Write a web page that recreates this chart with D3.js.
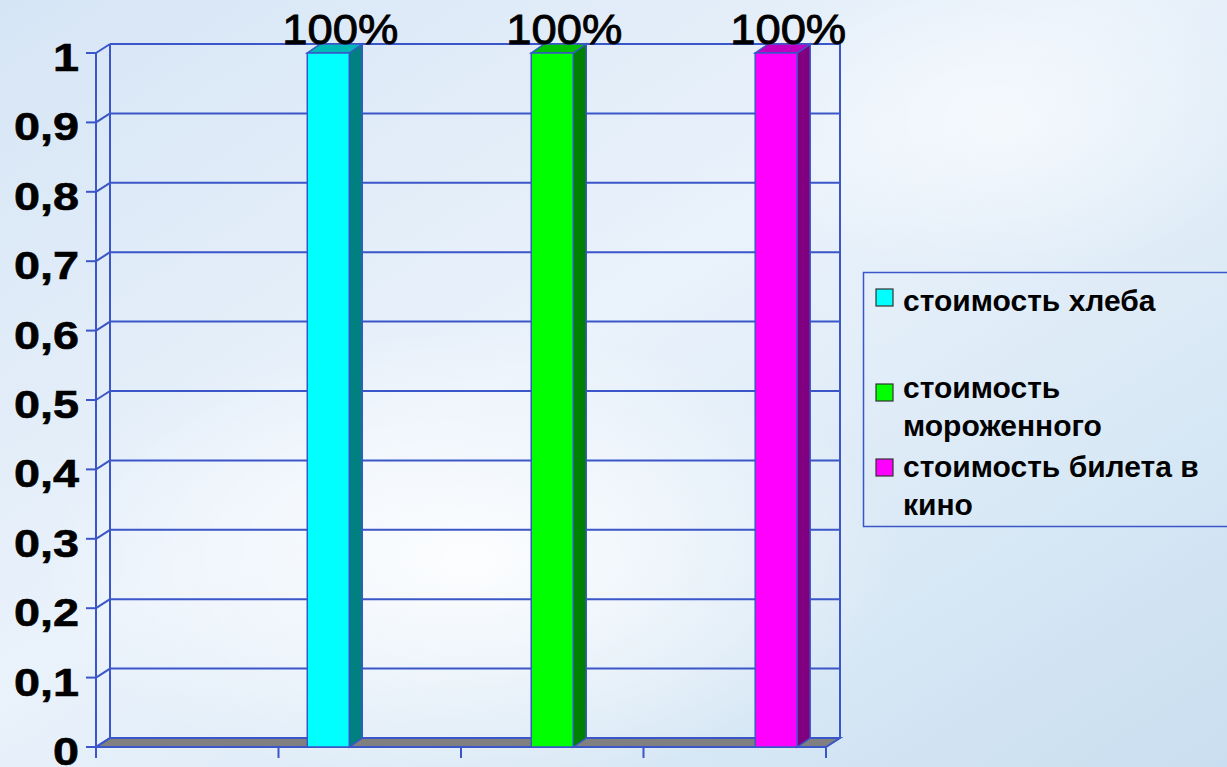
<!DOCTYPE html>
<html>
<head>
<meta charset="utf-8">
<script src="https://cdn.jsdelivr.net/npm/d3@7"></script>
<style>
  body { margin: 0; overflow: hidden; }
  svg { display: block; }
</style>
</head>
<body>
<div id="main_div"></div>
<script>
var WIDTH = 1227;
var HEIGHT = 767;

// chart data
var seriesNames = ["стоимость хлеба", "стоимость мороженного", "стоимость билета в кино"];
var legendLines = [["стоимость хлеба"], ["стоимость", "мороженного"], ["стоимость билета в", "кино"]];
var seriesValues = [1, 1, 1];
var valueLabels = ["100%", "100%", "100%"];
var yTicks = [0, 0.1, 0.2, 0.3, 0.4, 0.5, 0.6, 0.7, 0.8, 0.9, 1];
var categoryTicks = [0, 1, 2, 3, 4];

// colours: front, side, top
var frontColors = ["#00ffff", "#00ff00", "#ff00ff"];
var sideColors = ["#008080", "#008000", "#800080"];
var topColors = ["#00b8b8", "#00c000", "#c000c0"];
var LINE = "#3a56c8";

// 3d offset of the back wall
var DX = 14, DY = -9;

var svg = d3.select("#main_div").append("svg")
  .attr("width", WIDTH).attr("height", HEIGHT);

// ---------- background ----------
var defs = svg.append("defs");
var bg = defs.append("linearGradient").attr("id", "bg")
  .attr("x1", "0").attr("y1", "0").attr("x2", "1").attr("y2", "1");
bg.append("stop").attr("offset", "0").attr("stop-color", "#d6e5f5");
bg.append("stop").attr("offset", "0.45").attr("stop-color", "#eaf2fb");
bg.append("stop").attr("offset", "0.75").attr("stop-color", "#d8e8f5");
bg.append("stop").attr("offset", "1").attr("stop-color", "#c9def0");
var glow = defs.append("radialGradient").attr("id", "glow");
glow.append("stop").attr("offset", "0").attr("stop-color", "#ffffff").attr("stop-opacity", 0.9);
glow.append("stop").attr("offset", "1").attr("stop-color", "#ffffff").attr("stop-opacity", 0);

svg.append("rect").attr("width", WIDTH).attr("height", HEIGHT).style("fill", "url(#bg)");
svg.append("ellipse").attr("cx", 470).attr("cy", 560).attr("rx", 430).attr("ry", 230).style("fill", "url(#glow)");
svg.append("ellipse").attr("cx", 1000).attr("cy", 120).attr("rx", 260).attr("ry", 160).style("fill", "url(#glow)").style("opacity", 0.6);

// ---------- scales ----------
var y = d3.scaleLinear().domain([0, 1]).range([747, 53]);
var xCat = d3.scaleLinear().domain([0, 4]).range([96, 826]);
var x = d3.scaleBand().domain(seriesNames).range([96, 826])
  .paddingInner(0.8125).paddingOuter(0.536).align(0.88);

var chart = svg.append("g");

// floor
var x0 = xCat(0), x1 = xCat(4), yb = y(0);
chart.append("path")
  .attr("d", "M" + x0 + "," + yb + "L" + x1 + "," + yb + "L" + (x1 + DX) + "," + (yb + DY) +
             "L" + (x0 + DX) + "," + (yb + DY) + "Z")
  .style("fill", "#808080").style("stroke", LINE).style("stroke-width", 2);

// back wall gridlines
chart.selectAll(".grid").data(yTicks.slice(1)).enter().append("line")
  .attr("x1", x0 + DX).attr("x2", x1 + DX)
  .attr("y1", function(d) { return y(d) + DY; })
  .attr("y2", function(d) { return y(d) + DY; })
  .style("stroke", LINE).style("stroke-width", 2);

// side wall diagonals
chart.selectAll(".diag").data(yTicks).enter().append("line")
  .attr("x1", x0).attr("x2", x0 + DX)
  .attr("y1", function(d) { return y(d); })
  .attr("y2", function(d) { return y(d) + DY; })
  .style("stroke", LINE).style("stroke-width", 2);

// back wall verticals
chart.append("line").attr("x1", x0 + DX).attr("x2", x0 + DX)
  .attr("y1", y(1) + DY).attr("y2", y(0) + DY).style("stroke", LINE).style("stroke-width", 2);
chart.append("line").attr("x1", x1 + DX).attr("x2", x1 + DX)
  .attr("y1", y(1) + DY).attr("y2", y(0) + DY).style("stroke", LINE).style("stroke-width", 2);

// front value axis
chart.append("line").attr("x1", x0).attr("x2", x0)
  .attr("y1", y(1)).attr("y2", y(0)).style("stroke", LINE).style("stroke-width", 2);
chart.selectAll(".ytick").data(yTicks).enter().append("line")
  .attr("x1", x0 - 10).attr("x2", x0)
  .attr("y1", function(d) { return y(d); })
  .attr("y2", function(d) { return y(d); })
  .style("stroke", LINE).style("stroke-width", 2);

// labels are drawn wide in the reference, so stretch them a bit
var fmt = function(d) { return d === 0 || d === 1 ? String(d) : String(d).replace(".", ","); };
chart.selectAll(".ylabel").data(yTicks).enter().append("text")
  .attr("transform", function(d) { return "translate(79," + (y(d) + 18) + ") scale(1.2,1)"; })
  .attr("text-anchor", "end")
  .style("font-family", "Liberation Sans, Arial, sans-serif")
  .style("font-weight", "bold").style("font-size", "39px")
  .style("stroke", "#000").style("stroke-width", 0.6)
  .text(fmt);

// category axis
chart.append("line").attr("x1", x0).attr("x2", x1)
  .attr("y1", yb).attr("y2", yb).style("stroke", LINE).style("stroke-width", 2);
chart.selectAll(".xtick").data(categoryTicks).enter().append("line")
  .attr("x1", function(d) { return xCat(d); })
  .attr("x2", function(d) { return xCat(d); })
  .attr("y1", yb).attr("y2", yb + 11)
  .style("stroke", LINE).style("stroke-width", 2);

// ---------- bars ----------
var bars = chart.selectAll(".bar").data(seriesValues).enter().append("g");
var bw = x.bandwidth();
var bdx = 13, bdy = -9;

bars.append("path")
  .attr("d", function(d, i) {
    var l = x(seriesNames[i]) + bw, t = y(d), b = y(0);
    return "M" + l + "," + b + "L" + l + "," + t + "L" + (l + bdx) + "," + (t + bdy) +
           "L" + (l + bdx) + "," + (b + bdy) + "Z";
  })
  .style("fill", function(d, i) { return sideColors[i]; })
  .style("stroke", LINE).style("stroke-width", 1.5);

bars.append("path")
  .attr("d", function(d, i) {
    var l = x(seriesNames[i]), t = y(d);
    return "M" + l + "," + t + "L" + (l + bw) + "," + t + "L" + (l + bw + bdx) + "," + (t + bdy) +
           "L" + (l + bdx) + "," + (t + bdy) + "Z";
  })
  .style("fill", function(d, i) { return topColors[i]; })
  .style("stroke", LINE).style("stroke-width", 1.5);

bars.append("rect")
  .attr("x", function(d, i) { return x(seriesNames[i]); })
  .attr("y", function(d) { return y(d); })
  .attr("width", bw)
  .attr("height", function(d) { return y(0) - y(d); })
  .style("fill", function(d, i) { return frontColors[i]; })
  .style("stroke", LINE).style("stroke-width", 1.5);

bars.append("text")
  .attr("transform", function(d, i) {
    return "translate(" + (x(seriesNames[i]) + bw / 2 + 12) + "," + (y(d) - 9) + ") scale(1.08,1)";
  })
  .attr("text-anchor", "middle")
  .style("font-family", "Liberation Sans, Arial, sans-serif")
  .style("font-size", "42px")
  .style("stroke", "#000").style("stroke-width", 0.9)
  .text(function(d, i) { return valueLabels[i]; });

// ---------- legend ----------
var legend = svg.append("g");
legend.append("rect")
  .attr("x", 863.5).attr("y", 272.5).attr("width", 380).attr("height", 254)
  .style("fill", "none").style("stroke", LINE).style("stroke-width", 1.5);

var markerY = [289, 384, 459];
var textY = [311, 398, 477];
legendLines.forEach(function(lines, i) {
  legend.append("rect")
    .attr("x", 876).attr("y", markerY[i]).attr("width", 17).attr("height", 17)
    .style("fill", frontColors[i]).style("stroke", "#333").style("stroke-width", 1.2);
  lines.forEach(function(t, j) {
    legend.append("text")
      .attr("x", 903).attr("y", textY[i] + j * 38)
      .style("font-family", "Liberation Sans, Arial, sans-serif")
      .style("font-weight", "bold").style("font-size", "30px")
      .text(t);
  });
});
</script>
</body>
</html>
